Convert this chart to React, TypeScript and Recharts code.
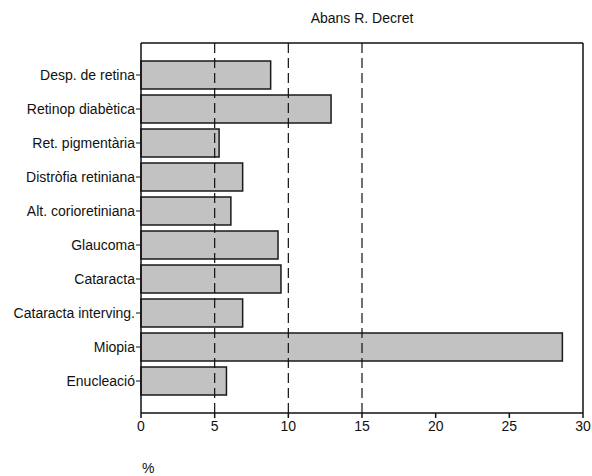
import React from "react";
import { BarChart, Bar, XAxis, YAxis, ReferenceLine } from "recharts";

const categories = [
  "Desp. de retina",
  "Retinop diabètica",
  "Ret. pigmentària",
  "Distròfia retiniana",
  "Alt. corioretiniana",
  "Glaucoma",
  "Cataracta",
  "Cataracta interving.",
  "Miopia",
  "Enucleació",
];
const values = [8.8, 12.9, 5.3, 6.9, 6.1, 9.3, 9.5, 6.9, 28.6, 5.8];
const xTicks = [0, 5, 10, 15, 20, 25, 30];
const dashedAt = [5, 10, 15];

const data = categories.map((name, i) => ({ name, value: values[i] }));
const font = "'Liberation Sans', Arial, sans-serif";

export default function App() {
  return (
    <div style={{ position: "absolute", left: 0, top: 0, width: 592, height: 476, background: "#fff", fontFamily: font }}>
      <div style={{ position: "absolute", left: 262, width: 200, top: 10, textAlign: "center", fontSize: 14, color: "#111", lineHeight: "16px" }}>
        Abans R. Decret
      </div>
      <div style={{ position: "absolute", left: 142, top: 460, fontSize: 14, color: "#111", lineHeight: "16px" }}>%</div>
      <BarChart
        width={592}
        height={476}
        data={data}
        layout="vertical"
        margin={{ top: 42, right: 9, bottom: 0, left: 0 }}
        style={{ fontFamily: font }}
      >
        <XAxis
          type="number"
          domain={[0, 30]}
          ticks={xTicks}
          interval={0}
          height={63}
          tickSize={5}
          tickMargin={3}
          axisLine={{ stroke: "#111", strokeWidth: 1.5 }}
          tickLine={{ stroke: "#111", strokeWidth: 1.5 }}
          tick={{ fill: "#111", fontSize: 14 }}
        />
        <XAxis
          xAxisId="top"
          orientation="top"
          type="number"
          domain={[0, 30]}
          height={1}
          tick={false}
          tickLine={false}
          axisLine={{ stroke: "#111", strokeWidth: 1.5 }}
        />
        <YAxis
          type="category"
          dataKey="name"
          width={141}
          interval={0}
          padding={{ top: 15, bottom: 15 }}
          tickSize={5}
          tickMargin={1}
          axisLine={{ stroke: "#111", strokeWidth: 1.5 }}
          tickLine={{ stroke: "#111", strokeWidth: 1 }}
          tick={{ fill: "#111", fontSize: 14 }}
        />
        {dashedAt.map((v) => (
          <ReferenceLine key={v} x={v} stroke="#111" strokeWidth={1.2} strokeDasharray="10 5" />
        ))}
        <ReferenceLine x={30} stroke="#111" strokeWidth={1.5} ifOverflow="visible" />
        <ReferenceLine xAxisId="top" x={0} stroke="none" />
        <Bar dataKey="value" fill="#c2c2c2" stroke="#1a1a1a" strokeWidth={1.5} barSize={28} isAnimationActive={false} />
      </BarChart>
    </div>
  );
}
